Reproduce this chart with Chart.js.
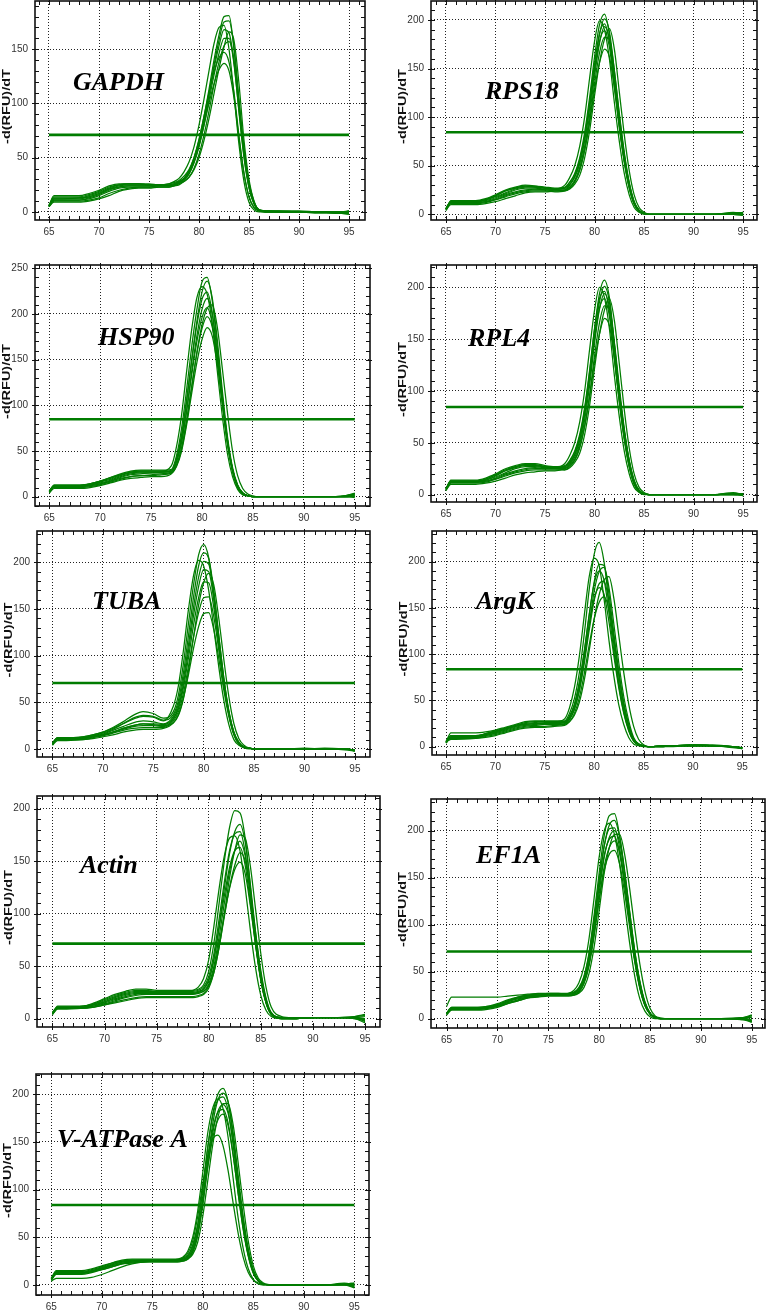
<!DOCTYPE html>
<html>
<head>
<meta charset="utf-8">
<script src="https://cdn.jsdelivr.net/npm/chart.js@4.4.1/dist/chart.umd.min.js"></script>
<style>
  html, body { margin: 0; padding: 0; background: #fff; }
  #page { position: relative; width: 766px; height: 1311px; overflow: hidden; }
  #page canvas { position: absolute; }
</style>
</head>
<body>
<div id="page"></div>
<script>
// temperatures (deg C) at which every melt trace is read
const temps = [65, 65.5, 66, 68, 69, 70, 71, 72, 73, 74, 75, 76,
  77, 77.5, 78, 78.5, 79, 79.5, 80, 80.5, 81, 81.5, 82, 82.5, 83, 83.5, 84, 84.5, 85, 85.5, 86,
  87, 88, 90, 92, 94, 95];
const xTicks = [65, 70, 75, 80, 85, 90, 95];
const genes = ['GAPDH', 'RPS18', 'HSP90', 'RPL4', 'TUBA', 'ArgK', 'Actin', 'EF1A', 'V-ATPase A'];
const thresholds = [71, 84.4, 84.7, 84.6, 70.6, 83.7, 71.4, 71.5, 83.8];
const yTickSets = [
  [0, 50, 100, 150],
  [0, 50, 100, 150, 200],
  [0, 50, 100, 150, 200, 250],
  [0, 50, 100, 150, 200],
  [0, 50, 100, 150, 200],
  [0, 50, 100, 150, 200],
  [0, 50, 100, 150, 200],
  [0, 50, 100, 150, 200],
  [0, 50, 100, 150, 200]
];

// -d(RFU)/dT readings, one row per well
const gapdhRuns = [
  [6, 15, 15, 15, 17, 20, 24, 26, 26, 26, 25, 25, 26, 27, 29, 33, 39, 50, 66, 88, 113, 140, 163, 180, 181, 150, 100, 55, 24, 8, 2, 0, 0, 0, 0, 0, -1],
  [5, 13, 13, 13, 15, 18, 22, 25, 26, 26, 26, 25, 25, 26, 28, 31, 37, 47, 62, 83, 108, 135, 158, 175, 176, 152, 104, 58, 26, 9, 2, 1, 1, 0, 0, -1, -1],
  [5, 12, 12, 12, 14, 17, 21, 24, 25, 25, 25, 25, 25, 26, 28, 31, 37, 48, 64, 85, 108, 132, 153, 168, 165, 138, 92, 50, 22, 7, 1, 0, 0, 0, 0, 0, 1],
  [6, 12, 12, 13, 14, 17, 21, 23, 24, 24, 24, 24, 24, 25, 27, 30, 35, 45, 60, 80, 103, 126, 146, 160, 160, 136, 93, 52, 23, 8, 2, 0, 0, 0, -1, -1, -2],
  [5, 10, 10, 10, 11, 13, 17, 20, 22, 23, 23, 23, 23, 24, 25, 28, 32, 40, 53, 71, 93, 117, 138, 153, 157, 140, 100, 58, 27, 10, 2, 1, 1, 1, 0, 0, 0],
  [6, 11, 11, 11, 12, 15, 19, 22, 23, 23, 23, 24, 24, 25, 27, 31, 38, 50, 67, 88, 110, 129, 142, 147, 138, 110, 70, 36, 14, 4, 1, 0, 0, 0, 0, -1, 1],
  [5, 9, 9, 9, 10, 12, 15, 19, 21, 22, 22, 23, 23, 24, 26, 29, 35, 46, 61, 80, 100, 118, 131, 137, 130, 105, 68, 35, 14, 4, 1, 0, 0, 0, 0, 0, -1],
  [6, 14, 14, 14, 16, 19, 23, 25, 26, 26, 25, 25, 26, 28, 31, 37, 46, 60, 80, 104, 130, 155, 170, 172, 150, 108, 62, 28, 9, 2, 0, 0, 0, 0, 0, 0, 0],
  [5, 11, 11, 11, 13, 16, 20, 23, 24, 24, 24, 24, 24, 25, 26, 28, 32, 39, 50, 66, 86, 109, 132, 152, 166, 158, 118, 66, 30, 10, 2, 1, 0, 0, 0, -1, -2]
];
const rps18Runs = [
  [5, 14, 14, 14, 16, 20, 25, 28, 30, 29, 27, 26, 27, 33, 42, 58, 84, 120, 162, 195, 206, 185, 140, 95, 58, 30, 12, 4, 1, 0, 0, 0, 0, 0, 0, 1, 0],
  [6, 13, 13, 13, 15, 18, 22, 26, 28, 28, 27, 26, 26, 30, 38, 52, 76, 110, 150, 185, 201, 188, 148, 102, 62, 32, 13, 4, 1, 0, 0, 0, 0, 0, 0, 2, 1],
  [4, 12, 12, 13, 15, 19, 24, 27, 29, 29, 28, 27, 28, 33, 41, 56, 80, 115, 155, 186, 196, 178, 136, 92, 55, 28, 11, 3, 1, 0, 0, 0, 0, 0, 0, 0, -1],
  [5, 11, 11, 11, 12, 15, 19, 22, 24, 25, 25, 24, 25, 28, 35, 48, 70, 102, 142, 176, 193, 180, 142, 98, 60, 31, 12, 4, 1, 0, 0, 0, 0, 0, 0, 1, 2],
  [6, 13, 13, 13, 14, 17, 21, 25, 27, 27, 26, 26, 27, 31, 39, 53, 77, 110, 148, 178, 189, 172, 132, 90, 54, 27, 10, 3, 1, 0, 0, 0, 0, 0, 0, 0, 0],
  [5, 12, 12, 12, 13, 15, 18, 21, 23, 24, 24, 23, 24, 27, 33, 45, 66, 96, 134, 166, 182, 180, 148, 104, 64, 33, 13, 4, 1, 0, 0, 0, 0, 0, 0, 1, 0],
  [4, 10, 10, 10, 11, 13, 16, 19, 22, 23, 23, 24, 25, 28, 34, 46, 66, 94, 128, 156, 170, 162, 130, 90, 55, 28, 11, 3, 1, 0, 0, 0, 0, 0, 0, 0, -1],
  [5, 13, 13, 13, 15, 19, 24, 27, 29, 28, 27, 26, 30, 38, 50, 70, 100, 140, 178, 199, 190, 160, 115, 75, 42, 20, 7, 2, 0, 0, 0, 0, 0, 0, 0, 0, 0],
  [5, 12, 12, 12, 13, 16, 20, 23, 25, 26, 25, 25, 24, 26, 31, 40, 58, 86, 122, 156, 180, 191, 170, 126, 82, 45, 20, 7, 2, 0, 0, 0, 0, 0, 0, 1, 2]
];
const hsp90Runs = [
  [6, 13, 13, 13, 14, 17, 21, 25, 28, 29, 29, 29, 30, 45, 75, 118, 165, 205, 235, 240, 215, 165, 110, 62, 30, 12, 4, 1, 0, 0, 0, 0, 0, 0, 0, 1, 3],
  [5, 12, 12, 12, 13, 16, 19, 23, 26, 27, 27, 27, 28, 40, 65, 105, 150, 192, 224, 236, 218, 172, 116, 66, 32, 13, 4, 1, 0, 0, 0, 0, 0, 0, 0, 0, 2],
  [6, 11, 11, 12, 13, 15, 18, 22, 25, 26, 26, 27, 29, 42, 68, 107, 150, 188, 216, 224, 202, 155, 103, 58, 27, 10, 3, 1, 0, 0, 0, 0, 0, 0, 0, 0, -1],
  [5, 10, 10, 10, 11, 13, 16, 19, 22, 23, 24, 25, 27, 38, 60, 96, 138, 176, 205, 217, 200, 158, 108, 62, 30, 12, 4, 1, 0, 0, 0, 0, 0, 0, 0, 1, 4],
  [6, 12, 12, 12, 14, 17, 20, 24, 27, 28, 28, 28, 28, 39, 60, 94, 134, 170, 196, 207, 190, 150, 102, 58, 28, 11, 3, 1, 0, 0, 0, 0, 0, 0, 0, 0, 1],
  [5, 11, 11, 11, 12, 14, 17, 20, 22, 23, 23, 24, 26, 35, 54, 85, 122, 157, 184, 197, 186, 152, 106, 62, 30, 12, 4, 1, 0, 0, 0, 0, 0, 0, 0, 0, 0],
  [4, 9, 9, 9, 10, 12, 15, 18, 20, 21, 22, 22, 25, 33, 50, 79, 114, 147, 172, 185, 176, 145, 102, 60, 29, 11, 3, 1, 0, 0, 0, 0, 0, 0, 0, 0, 2],
  [6, 12, 12, 12, 14, 17, 21, 24, 27, 28, 28, 28, 34, 55, 90, 138, 184, 218, 230, 222, 190, 138, 88, 47, 22, 8, 2, 1, 0, 0, 0, 0, 0, 0, 0, 0, 1],
  [5, 11, 11, 11, 12, 14, 17, 21, 24, 25, 26, 26, 26, 34, 52, 82, 120, 158, 188, 206, 210, 186, 140, 92, 50, 23, 9, 3, 1, 0, 0, 0, 0, 0, 0, 1, 3]
];
const rpl4Runs = [
  [5, 14, 14, 14, 16, 20, 25, 28, 30, 30, 28, 27, 27, 32, 41, 56, 82, 118, 160, 194, 207, 190, 146, 100, 62, 33, 14, 4, 1, 0, 0, 0, 0, 0, 0, 1, 0],
  [6, 13, 13, 13, 15, 19, 23, 27, 29, 28, 27, 26, 26, 30, 38, 52, 77, 112, 153, 186, 201, 186, 144, 99, 61, 32, 13, 4, 1, 0, 0, 0, 0, 0, 0, 2, 0],
  [4, 12, 12, 12, 14, 18, 23, 26, 28, 28, 27, 27, 28, 33, 42, 58, 84, 120, 160, 189, 196, 176, 133, 90, 54, 27, 10, 3, 1, 0, 0, 0, 0, 0, 0, 0, -1],
  [5, 11, 11, 11, 12, 15, 19, 22, 24, 25, 25, 25, 25, 29, 36, 49, 72, 105, 146, 179, 194, 181, 142, 98, 60, 31, 12, 4, 1, 0, 0, 0, 0, 0, 0, 1, 1],
  [6, 13, 13, 13, 14, 17, 21, 25, 27, 27, 26, 26, 27, 31, 39, 54, 78, 112, 150, 180, 189, 172, 132, 90, 54, 27, 10, 3, 1, 0, 0, 0, 0, 0, 0, 0, 0],
  [5, 12, 12, 12, 13, 15, 18, 21, 23, 24, 24, 24, 24, 27, 33, 45, 66, 96, 134, 166, 182, 179, 147, 104, 64, 33, 13, 4, 1, 0, 0, 0, 0, 0, 0, 1, -1],
  [4, 10, 10, 10, 11, 13, 16, 19, 21, 22, 23, 23, 25, 28, 34, 46, 66, 94, 128, 155, 170, 163, 131, 91, 55, 28, 11, 3, 1, 0, 0, 0, 0, 0, 0, 0, 0],
  [5, 13, 13, 13, 15, 19, 24, 27, 29, 29, 27, 26, 30, 38, 50, 70, 100, 140, 178, 200, 190, 160, 115, 75, 42, 20, 7, 2, 0, 0, 0, 0, 0, 0, 0, 1, 0],
  [5, 12, 12, 12, 13, 16, 20, 23, 25, 26, 25, 25, 24, 26, 31, 40, 58, 86, 122, 155, 178, 189, 168, 126, 82, 45, 20, 7, 2, 0, 0, 0, 0, 0, 0, 0, 1]
];
const tubaRuns = [
  [6, 12, 12, 13, 15, 18, 23, 29, 36, 40, 38, 33, 40, 58, 92, 135, 176, 208, 219, 205, 165, 115, 70, 37, 16, 6, 2, 1, 0, 0, 0, 0, 0, 0, 0, 0, -1],
  [5, 12, 12, 12, 14, 17, 21, 27, 33, 36, 35, 31, 37, 52, 82, 122, 163, 196, 210, 204, 170, 122, 76, 40, 18, 7, 2, 1, 0, 0, 0, 0, 0, 0, 0, -1, -2],
  [6, 11, 11, 12, 14, 16, 20, 24, 28, 30, 29, 27, 35, 48, 75, 112, 152, 184, 201, 198, 167, 121, 76, 41, 18, 7, 2, 1, 0, 0, 0, 0, 0, 0, 0, 0, -1],
  [5, 11, 11, 11, 13, 15, 18, 22, 25, 27, 27, 26, 33, 45, 70, 105, 143, 174, 192, 190, 160, 116, 73, 39, 17, 6, 2, 1, 0, 0, 0, 0, 0, 1, 0, 0, -2],
  [6, 12, 12, 12, 13, 15, 18, 21, 24, 25, 25, 24, 32, 43, 66, 98, 133, 162, 179, 178, 152, 111, 70, 38, 17, 6, 2, 1, 0, 0, 0, 0, 0, 0, 1, 0, -1],
  [5, 10, 10, 10, 12, 14, 17, 20, 22, 23, 23, 23, 30, 40, 60, 89, 120, 146, 162, 163, 142, 106, 68, 37, 16, 6, 2, 1, 0, 0, 0, 0, 0, 0, 0, 0, -2],
  [4, 9, 9, 10, 11, 13, 15, 18, 20, 21, 21, 22, 28, 37, 55, 80, 108, 131, 145, 146, 128, 97, 63, 35, 15, 5, 2, 1, 0, 0, 0, 0, 0, 0, 0, 0, -1],
  [6, 12, 12, 13, 15, 18, 22, 27, 32, 35, 34, 30, 46, 68, 106, 150, 186, 202, 196, 170, 130, 88, 52, 26, 10, 4, 1, 0, 0, 0, 0, 0, 0, 0, 0, 0, -1],
  [5, 11, 11, 11, 13, 15, 18, 22, 25, 27, 26, 25, 28, 36, 54, 84, 120, 154, 178, 188, 176, 140, 96, 56, 27, 11, 4, 1, 0, 0, 0, 0, 0, 0, 0, 0, -2]
];
const argkRuns = [
  [5, 15, 15, 15, 16, 18, 21, 24, 27, 28, 28, 28, 28, 36, 52, 80, 122, 170, 208, 221, 200, 155, 110, 70, 40, 20, 7, 2, 1, 0, 0, 1, 1, 2, 1, 0, -1],
  [4, 11, 11, 11, 13, 16, 19, 22, 24, 25, 26, 26, 26, 32, 45, 68, 102, 142, 178, 197, 196, 165, 122, 80, 46, 23, 8, 3, 1, 0, 0, 1, 1, 2, 2, 0, -2],
  [5, 10, 10, 10, 12, 14, 17, 20, 22, 23, 24, 24, 25, 30, 41, 62, 94, 132, 168, 189, 194, 172, 132, 90, 54, 28, 10, 3, 1, 0, 0, 0, 1, 1, 1, 0, -1],
  [6, 12, 12, 12, 14, 17, 20, 23, 26, 27, 27, 27, 27, 33, 46, 70, 104, 143, 176, 190, 180, 145, 103, 66, 37, 18, 6, 2, 1, 0, 0, 1, 1, 2, 1, -1, -2],
  [5, 9, 9, 9, 11, 13, 16, 19, 21, 22, 22, 23, 24, 29, 40, 60, 90, 126, 158, 176, 179, 156, 118, 79, 46, 23, 8, 3, 1, 0, 0, 0, 1, 1, 1, 0, -1],
  [4, 10, 10, 11, 13, 16, 19, 22, 24, 25, 25, 25, 26, 32, 44, 66, 97, 132, 160, 172, 165, 135, 98, 63, 36, 17, 6, 2, 1, 0, 0, 1, 1, 2, 1, 0, -2],
  [5, 8, 8, 9, 10, 12, 15, 18, 20, 21, 21, 22, 23, 27, 36, 53, 79, 110, 138, 156, 162, 148, 115, 78, 46, 23, 8, 3, 1, 0, 0, 0, 0, 1, 1, 0, -1],
  [5, 12, 12, 12, 14, 17, 20, 23, 25, 26, 27, 27, 30, 42, 64, 98, 142, 184, 204, 196, 160, 115, 76, 45, 24, 10, 3, 1, 0, 0, 0, 1, 1, 2, 1, 0, -1],
  [4, 10, 10, 10, 12, 15, 18, 21, 23, 24, 25, 25, 24, 27, 34, 48, 72, 104, 138, 164, 180, 184, 160, 120, 80, 46, 22, 8, 2, 0, 0, 0, 1, 1, 1, 0, -1]
];
const actinRuns = [
  [5, 11, 11, 12, 15, 19, 23, 26, 28, 28, 27, 27, 27, 27, 27, 27, 28, 32, 45, 72, 110, 150, 182, 198, 196, 172, 125, 75, 38, 15, 4, 0, 0, 1, 1, 2, 4],
  [4, 10, 10, 11, 13, 16, 20, 23, 25, 25, 25, 25, 25, 25, 25, 25, 26, 28, 36, 56, 88, 124, 157, 178, 185, 168, 128, 82, 43, 18, 5, 1, 0, 1, 1, 1, -3],
  [5, 12, 12, 12, 14, 17, 21, 24, 26, 26, 26, 26, 26, 26, 26, 26, 27, 30, 40, 62, 95, 130, 160, 176, 178, 158, 116, 72, 37, 15, 4, 0, 0, 1, 1, 1, 0],
  [6, 11, 11, 11, 12, 14, 17, 20, 22, 23, 23, 23, 23, 23, 23, 23, 24, 26, 33, 50, 78, 110, 140, 160, 169, 155, 120, 78, 42, 18, 5, 1, 1, 1, 1, 0, -4],
  [5, 10, 10, 11, 13, 16, 19, 22, 24, 24, 24, 24, 24, 24, 24, 24, 25, 28, 37, 57, 86, 117, 144, 160, 163, 146, 110, 70, 36, 15, 4, 0, 0, 1, 1, 1, 2],
  [4, 9, 9, 10, 11, 13, 15, 17, 19, 20, 20, 20, 20, 20, 20, 20, 21, 23, 29, 44, 68, 97, 125, 146, 158, 150, 121, 82, 46, 20, 6, 1, 1, 1, 1, 0, -2],
  [5, 10, 10, 10, 11, 13, 16, 18, 20, 21, 21, 21, 21, 21, 21, 21, 22, 24, 31, 47, 72, 99, 124, 142, 149, 138, 107, 70, 38, 16, 5, 0, 0, 1, 1, 1, -1],
  [5, 11, 11, 12, 14, 18, 22, 25, 27, 27, 26, 26, 26, 26, 26, 27, 30, 38, 56, 88, 124, 155, 172, 174, 160, 125, 84, 48, 22, 8, 2, 0, 0, 1, 1, 1, -1],
  [4, 10, 10, 10, 12, 15, 18, 21, 23, 24, 24, 24, 24, 24, 24, 24, 25, 26, 31, 44, 68, 100, 134, 160, 175, 172, 145, 104, 62, 30, 11, 2, 1, 1, 1, 2, 3]
];
const ef1aRuns = [
  [5, 11, 11, 11, 12, 15, 19, 23, 25, 26, 27, 27, 27, 28, 33, 45, 70, 110, 155, 195, 216, 218, 195, 155, 110, 68, 36, 15, 5, 1, 0, 0, 0, 0, 0, -1, -3],
  [13, 23, 23, 23, 23, 23, 24, 25, 26, 27, 27, 27, 26, 27, 31, 41, 63, 100, 144, 184, 206, 211, 194, 158, 114, 72, 39, 17, 6, 2, 0, 0, 0, 0, 0, 1, 3],
  [6, 12, 12, 12, 13, 16, 20, 23, 25, 26, 26, 26, 27, 28, 32, 44, 68, 106, 148, 184, 202, 203, 182, 145, 103, 63, 33, 14, 5, 1, 0, 0, 0, 0, 0, 0, -2],
  [5, 10, 10, 10, 11, 13, 17, 20, 23, 24, 25, 25, 25, 26, 29, 38, 58, 92, 134, 172, 193, 200, 188, 155, 113, 72, 40, 18, 6, 2, 0, 0, 0, 0, 0, -1, 2],
  [6, 12, 12, 12, 13, 15, 19, 22, 24, 25, 26, 26, 26, 27, 31, 42, 64, 100, 140, 174, 191, 194, 176, 141, 101, 62, 33, 14, 5, 1, 0, 0, 0, 0, 0, 0, -4],
  [4, 9, 9, 9, 10, 12, 16, 19, 22, 23, 24, 24, 24, 25, 28, 37, 56, 88, 127, 162, 182, 189, 178, 147, 107, 68, 38, 17, 6, 2, 0, 0, 0, 0, 0, 1, 1],
  [5, 11, 11, 11, 12, 14, 18, 21, 23, 24, 25, 25, 25, 26, 29, 39, 58, 90, 126, 158, 175, 179, 165, 134, 97, 60, 32, 14, 5, 1, 0, 0, 0, 0, 0, 0, -1],
  [5, 11, 11, 11, 12, 14, 18, 22, 24, 25, 26, 26, 27, 30, 38, 55, 85, 128, 172, 200, 208, 196, 165, 122, 80, 45, 21, 8, 2, 0, 0, 0, 0, 0, 0, 0, -2],
  [5, 10, 10, 10, 11, 13, 16, 19, 22, 24, 25, 25, 25, 25, 27, 33, 48, 76, 115, 155, 182, 196, 196, 175, 138, 96, 58, 29, 11, 3, 1, 0, 0, 0, 0, 1, 4]
];
const vatpaseRuns = [
  [7, 15, 15, 15, 17, 20, 23, 25, 26, 26, 26, 26, 26, 26, 27, 30, 40, 62, 100, 145, 180, 200, 206, 192, 155, 108, 66, 34, 14, 4, 1, 0, 0, 0, 0, 1, -2],
  [6, 13, 13, 13, 15, 18, 21, 24, 25, 25, 25, 25, 25, 25, 26, 28, 36, 55, 88, 132, 170, 194, 201, 192, 160, 115, 72, 38, 16, 5, 1, 0, 0, 0, 0, 2, 0],
  [7, 14, 14, 14, 16, 19, 23, 26, 27, 27, 27, 27, 27, 27, 28, 31, 42, 64, 102, 145, 178, 194, 197, 183, 147, 102, 62, 32, 13, 4, 1, 0, 0, 0, 0, 0, -1],
  [5, 11, 11, 11, 13, 16, 19, 22, 23, 24, 24, 24, 24, 24, 25, 27, 34, 52, 84, 125, 160, 182, 189, 180, 150, 108, 68, 36, 15, 5, 1, 0, 0, 0, 0, 1, 2],
  [6, 12, 12, 12, 14, 17, 21, 24, 25, 26, 26, 26, 26, 26, 27, 29, 38, 57, 92, 132, 164, 181, 184, 170, 137, 96, 58, 30, 12, 4, 1, 0, 0, 0, 0, 0, -3],
  [6, 13, 13, 13, 14, 16, 19, 22, 24, 24, 25, 25, 25, 25, 26, 28, 35, 53, 86, 124, 155, 173, 179, 167, 136, 96, 59, 31, 13, 4, 1, 0, 0, 0, 0, 1, 0],
  [4, 7, 7, 7, 8, 11, 15, 19, 22, 24, 25, 25, 26, 26, 28, 33, 46, 72, 106, 136, 153, 157, 146, 120, 86, 54, 29, 13, 5, 1, 0, 0, 0, 0, 0, 0, -1],
  [6, 13, 13, 13, 15, 18, 22, 25, 26, 26, 26, 26, 26, 27, 29, 35, 50, 78, 118, 160, 186, 195, 185, 155, 112, 70, 38, 17, 6, 2, 0, 0, 0, 0, 0, 0, -1],
  [5, 12, 12, 12, 14, 17, 20, 23, 24, 25, 25, 25, 25, 25, 25, 27, 32, 45, 72, 110, 148, 176, 190, 190, 168, 128, 84, 46, 20, 7, 2, 0, 0, 0, 0, 1, 2]
];
const runsByGene = [gapdhRuns, rps18Runs, hsp90Runs, rpl4Runs, tubaRuns, argkRuns, actinRuns, ef1aRuns, vatpaseRuns];

// page geometry of each plot frame (px) and the axis span it shows
const panelBoxes = [
  { l: 35,  t: 1,    r: 365, b: 220,  xMin: 63.6,  xMax: 96.6,  yMin: -7.4,  yMax: 194.4, lx: 73,  ly: 90 },
  { l: 431, t: 1,    r: 757, b: 220,  xMin: 63.49, xMax: 96.4,  yMin: -5.9,  yMax: 219.5, lx: 485, ly: 99 },
  { l: 35,  t: 265,  r: 370, b: 506,  xMin: 63.6,  xMax: 96.5,  yMin: -10.2, yMax: 253.6, lx: 98,  ly: 345 },
  { l: 431, t: 265,  r: 757, b: 502,  xMin: 63.49, xMax: 96.4,  yMin: -7.1,  yMax: 221.5, lx: 468, ly: 346 },
  { l: 37,  t: 531,  r: 370, b: 757,  xMin: 63.47, xMax: 96.5,  yMin: -8.6,  yMax: 233.5, lx: 92,  ly: 609 },
  { l: 432, t: 531,  r: 757, b: 755,  xMin: 63.58, xMax: 96.49, yMin: -9,    yMax: 233.2, lx: 476, ly: 609 },
  { l: 37,  t: 796,  r: 380, b: 1027, xMin: 63.52, xMax: 96.44, yMin: -8,    yMax: 212,   lx: 80,  ly: 873 },
  { l: 431, t: 799,  r: 765, b: 1028, xMin: 63.47, xMax: 96.3,  yMin: -9.9,  yMax: 233.6, lx: 476, ly: 863 },
  { l: 36,  t: 1074, r: 369, b: 1295, xMin: 63.49, xMax: 96.45, yMin: -10.5, yMax: 221,   lx: 57,  ly: 1147 }
];

const GREEN = 'rgb(0,124,0)';
const AXIS_W = 36, AXIS_H = 24, PAD_T = 2, PAD_R = 2;
const tickFont = { family: '"Liberation Sans Narrow", "Liberation Sans", Arial, sans-serif', size: 10 };

// frame, minor ticks on all four sides, y title and gene name
const panelDecor = {
  id: 'panelDecor',
  afterDraw(chart, args, opts) {
    const { ctx, chartArea: a, scales: { x, y } } = chart;
    ctx.save();
    ctx.strokeStyle = '#111';
    ctx.lineWidth = 1;
    ctx.beginPath();
    for (let v = Math.ceil(x.min); v <= Math.floor(x.max); v++) {
      const px = Math.round(x.getPixelForValue(v)) + 0.5;
      const out = v % 5 === 0 ? 3 : 0;
      ctx.moveTo(px, a.bottom + out); ctx.lineTo(px, a.bottom - 4);
      ctx.moveTo(px, a.top - out); ctx.lineTo(px, a.top + 4);
    }
    for (let v = Math.ceil(y.min / 10) * 10; v <= y.max; v += 10) {
      const py = Math.round(y.getPixelForValue(v)) + 0.5;
      const out = v % 50 === 0 ? 3 : 0;
      ctx.moveTo(a.left - out, py); ctx.lineTo(a.left + 4, py);
      ctx.moveTo(a.right + out, py); ctx.lineTo(a.right - 4, py);
    }
    ctx.stroke();
    ctx.lineWidth = 1.6;
    ctx.strokeRect(a.left, a.top, a.right - a.left, a.bottom - a.top);

    ctx.fillStyle = '#000';
    ctx.font = 'italic bold 26px "Liberation Serif", "Times New Roman", serif';
    ctx.textAlign = 'left';
    ctx.textBaseline = 'alphabetic';
    ctx.fillText(opts.label, opts.lx, opts.ly);

    ctx.translate(a.left - 28, (a.top + a.bottom) / 2 - 4);
    ctx.rotate(-Math.PI / 2);
    ctx.scale(1.45, 1);
    ctx.font = 'bold 10px "Liberation Sans", Arial, sans-serif';
    ctx.textAlign = 'center';
    ctx.textBaseline = 'middle';
    ctx.fillStyle = '#111';
    ctx.fillText('-d(RFU)/dT', 0, 0);
    ctx.restore();
  }
};

const page = document.getElementById('page');

genes.forEach((gene, i) => {
  const box = panelBoxes[i];
  const left = box.l - AXIS_W, top = box.t - PAD_T;
  const canvas = document.createElement('canvas');
  canvas.width = box.r - box.l + AXIS_W + PAD_R;
  canvas.height = box.b - box.t + PAD_T + AXIS_H;
  canvas.style.left = left + 'px';
  canvas.style.top = top + 'px';
  page.appendChild(canvas);

  const traces = runsByGene[i].map(run => ({
    data: temps.map((t, k) => ({ x: t, y: run[k] })),
    borderColor: GREEN,
    borderWidth: 1.25,
    pointRadius: 0,
    cubicInterpolationMode: 'monotone',
    fill: false
  }));
  traces.push({
    data: [{ x: 65, y: thresholds[i] }, { x: 95, y: thresholds[i] }],
    borderColor: GREEN,
    borderWidth: 2.6,
    pointRadius: 0,
    fill: false
  });

  new Chart(canvas, {
    type: 'line',
    data: { datasets: traces },
    options: {
      responsive: false,
      animation: false,
      events: [],
      layout: { autoPadding: false, padding: { left: 0, top: PAD_T, right: PAD_R, bottom: 0 } },
      plugins: {
        legend: { display: false },
        tooltip: { enabled: false },
        panelDecor: { label: gene, lx: box.lx - left, ly: box.ly - top }
      },
      scales: {
        x: {
          type: 'linear',
          min: box.xMin,
          max: box.xMax,
          afterBuildTicks: s => { s.ticks = xTicks.map(v => ({ value: v })); },
          afterFit: s => { s.height = AXIS_H; s.paddingLeft = 0; s.paddingRight = 0; },
          grid: { color: '#222', lineWidth: 1, drawTicks: false },
          border: { display: false, dash: [1, 2] },
          ticks: { font: tickFont, color: '#333', padding: 6, maxRotation: 0, autoSkip: false }
        },
        y: {
          type: 'linear',
          min: box.yMin,
          max: box.yMax,
          afterBuildTicks: s => { s.ticks = yTickSets[i].map(v => ({ value: v })); },
          afterFit: s => { s.width = AXIS_W; s.paddingTop = 0; s.paddingBottom = 0; },
          grid: { color: '#222', lineWidth: 1, drawTicks: false },
          border: { display: false, dash: [1, 2] },
          ticks: { font: tickFont, color: '#333', padding: 7, autoSkip: false }
        }
      }
    },
    plugins: [panelDecor]
  });
});
</script>
</body>
</html>
